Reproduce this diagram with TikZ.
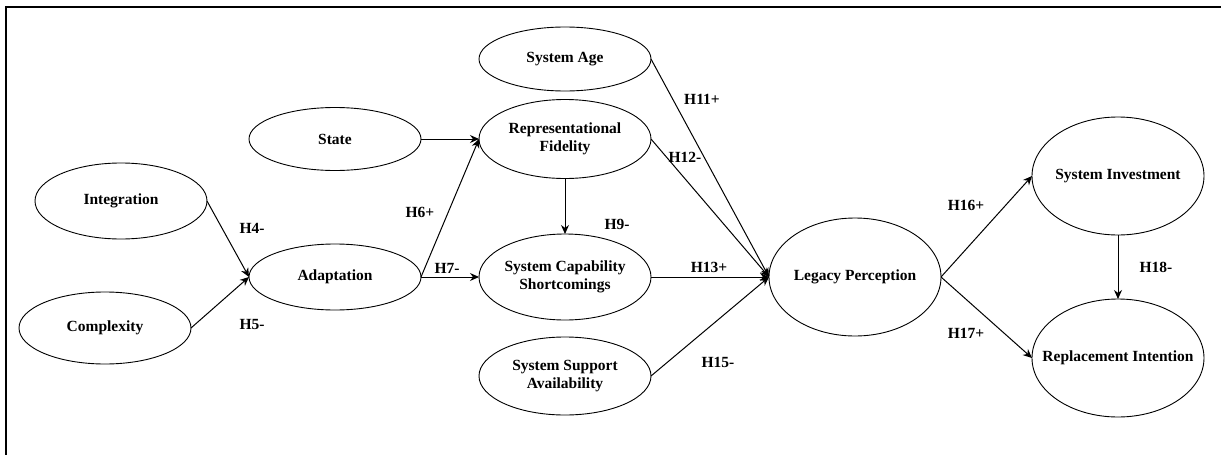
\documentclass[tikz,border=0pt]{standalone}
\usepackage{fontspec}
\setmainfont{Liberation Serif}
\usetikzlibrary{shapes.geometric,arrows.meta}
\tikzset{
  construct/.style={ellipse, draw, line width=0.9pt, inner sep=0pt, outer sep=0pt,
    minimum width=172pt},
  cname/.style={align=center, inner sep=0pt, font=\fontsize{15.5}{18}\selectfont\bfseries},
  link/.style={line width=1pt, -{Stealth[length=9pt,width=8pt]}},
  hyp/.style={font=\fontsize{15.5}{18}\selectfont\bfseries, inner sep=0pt},
  frame/.style={line width=1.4pt}
}
\begin{document}
\begin{tikzpicture}[x=1pt,y=-1pt]
\useasboundingbox (0,0) rectangle (1221,455);
% open frame: top and left edges
\coordinate (fa) at (6,455);
\coordinate (fb) at (6,7);
\coordinate (fc) at (1221,7);
\draw[frame] (fa) -- (fb) -- (fc);

% constructs (outline and name)
\node[construct, minimum height=76pt] (int) at (121,201) {};
\node[cname] (intT) at (int) {Integration};
\node[construct, minimum height=72pt] (cpx) at (105,328) {};
\node[cname] (cpxT) at (cpx) {Complexity};
\node[construct, minimum height=63pt] (st) at (335,139) {};
\node[cname] (stT) at (st) {State};
\node[construct, minimum height=66pt] (ad) at (335,277) {};
\node[cname] (adT) at (ad) {Adaptation};
\node[construct, minimum height=64pt] (age) at (565,59) {};
\node[cname] (ageT) at (age) {System Age};
\node[construct, minimum height=79pt] (rf) at (565,139) {};
\node[cname] (rfT) at (rf) {Representational\\Fidelity};
\node[construct, minimum height=86pt] (scs) at (565,277) {};
\node[cname] (scsT) at (scs) {System Capability\\Shortcomings};
\node[construct, minimum height=78pt] (ssa) at (565,376) {};
\node[cname] (ssaT) at (ssa) {System Support\\Availability};
\node[construct, minimum height=118pt] (lp) at (855,277) {};
\node[cname] (lpT) at (lp) {Legacy Perception};
\node[construct, minimum height=118pt] (si) at (1118,176) {};
\node[cname] (siT) at (si) {System Investment};
\node[construct, minimum height=118pt] (ri) at (1118,358) {};
\node[cname] (riT) at (ri) {Replacement Intention};

% paths
\draw[link] (int.east) -- (ad.west);
\draw[link] (cpx.east) -- (ad.west);
\draw[link] (st.east) -- (rf.west);
\draw[link] (ad.east) -- (rf.west);
\draw[link] (ad.east) -- (scs.west);
\draw[link] (rf.south) -- (scs.north);
\draw[link] (age.east) -- (lp.west);
\draw[link] (rf.east) -- (lp.west);
\draw[link] (scs.east) -- (lp.west);
\draw[link] (ssa.east) -- (lp.west);
\draw[link] (lp.east) -- (si.west);
\draw[link] (lp.east) -- (ri.west);
\draw[link] (si.south) -- (ri.north);

% hypothesis labels
\node[hyp] (h4) at (252,228) {H4-};
\node[hyp] (h5) at (252,324) {H5-};
\node[hyp] (h6) at (420,212) {H6+};
\node[hyp] (h7) at (447,268) {H7-};
\node[hyp] (h9) at (617,224) {H9-};
\node[hyp] (h11) at (702,99) {H11+};
\node[hyp] (h12) at (685,157) {H12-};
\node[hyp] (h13) at (709,267) {H13+};
\node[hyp] (h15) at (718,362) {H15-};
\node[hyp] (h16) at (966,205) {H16+};
\node[hyp] (h17) at (966,333) {H17+};
\node[hyp] (h18) at (1156,267) {H18-};
\end{tikzpicture}
\end{document}
